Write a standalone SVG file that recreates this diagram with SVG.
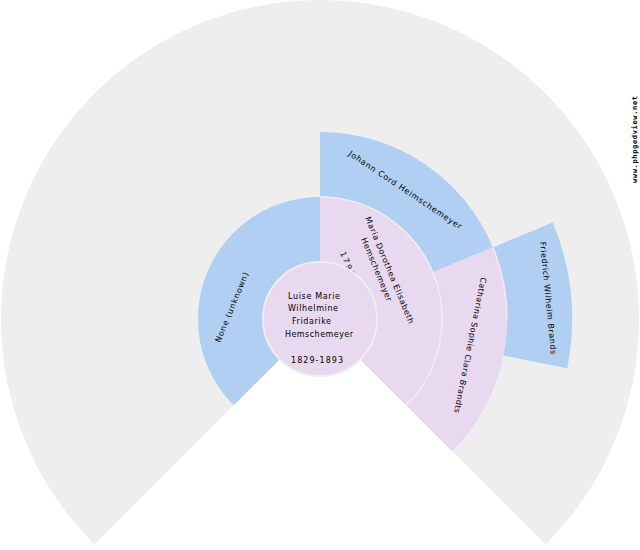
<svg xmlns="http://www.w3.org/2000/svg" width="640" height="550" viewBox="0 0 640 550">
<style>
.bg{fill:#eeeeee}
.b{fill:#b0cff2}
.n{fill:#e8d9f1;stroke:none}
.arc{fill:none;stroke:#eeeeee;stroke-width:1.5}
text{font-family:"DejaVu Sans",sans-serif;font-size:8px;fill:#000000}
</style>
<rect width="640" height="550" fill="#ffffff"/>
<g id="background"><path class="bg" d="M94.400 544.600A319 319 0 1 1 545.600 544.600L320 319Z"/></g>
<g id="person-none"><path class="b" d="M233.700 405.300A122 122 0 0 1 320 197L320 319Z"/>
<text transform="translate(220 343) rotate(-67.5)" textLength="75" lengthAdjust="spacing">None (unknown)</text></g>
<g id="person-johann"><path class="b" d="M320 132A187 187 0 0 1 492.800 247.400L320 319Z"/>
<text transform="translate(348 155) rotate(33.75)" textLength="134" lengthAdjust="spacing">Johann Cord Heimschemeyer</text></g>
<g id="person-friedrich"><path class="b" d="M492.800 247.400L552.800 222.600A252 252 0 0 1 567.200 368.200L503.400 355.500A187 187 0 0 0 492.800 247.400Z"/>
<text transform="translate(540 242) rotate(84.4)" textLength="113" lengthAdjust="spacing">Friedrich Wilhelm Brands</text></g>
<g id="person-catharina"><path class="n" d="M492.800 247.400A187 187 0 0 1 452.200 451.200L320 319Z"/><path class="arc" d="M492.800 247.400A187 187 0 0 1 507 319"/>
<text transform="translate(481 277) rotate(101.25)" textLength="138" lengthAdjust="spacing">Catharina Sophie Clara Brandts</text></g>
<g id="person-maria"><path class="n" d="M320 197A122 122 0 0 1 406.300 405.300L320 319Z"/><path class="arc" d="M320 197A122 122 0 0 1 406.300 405.300"/>
<text transform="translate(365 218) rotate(67.5)" textLength="115" lengthAdjust="spacing">Maria Dorothea Elisabeth</text>
<text transform="translate(361 239) rotate(67.5)" textLength="68" lengthAdjust="spacing">Hemschemeyer</text>
<text transform="translate(340 253) rotate(67.5)" textLength="58" lengthAdjust="spacing">1796-1874</text></g>
<g id="person-luise"><circle cx="320" cy="319" r="57" fill="#e8d9f1" stroke="#eeeeee" stroke-width="2"/>
<text x="288" y="299" textLength="52" lengthAdjust="spacing">Luise Marie</text>
<text x="288" y="311" textLength="50" lengthAdjust="spacing">Wilhelmine</text>
<text x="292" y="324" textLength="39" lengthAdjust="spacing">Fridarike</text>
<text x="285" y="337" textLength="68" lengthAdjust="spacing">Hemschemeyer</text>
<text x="291" y="363" textLength="52" lengthAdjust="spacing">1829-1893</text></g>
<g id="connectors"></g>
<text transform="translate(637 183) rotate(-90)" textLength="87" lengthAdjust="spacing" style="font-size:7px;font-family:'DejaVu Sans Mono',monospace;font-weight:bold">www.phpgedview.net</text>
</svg>
